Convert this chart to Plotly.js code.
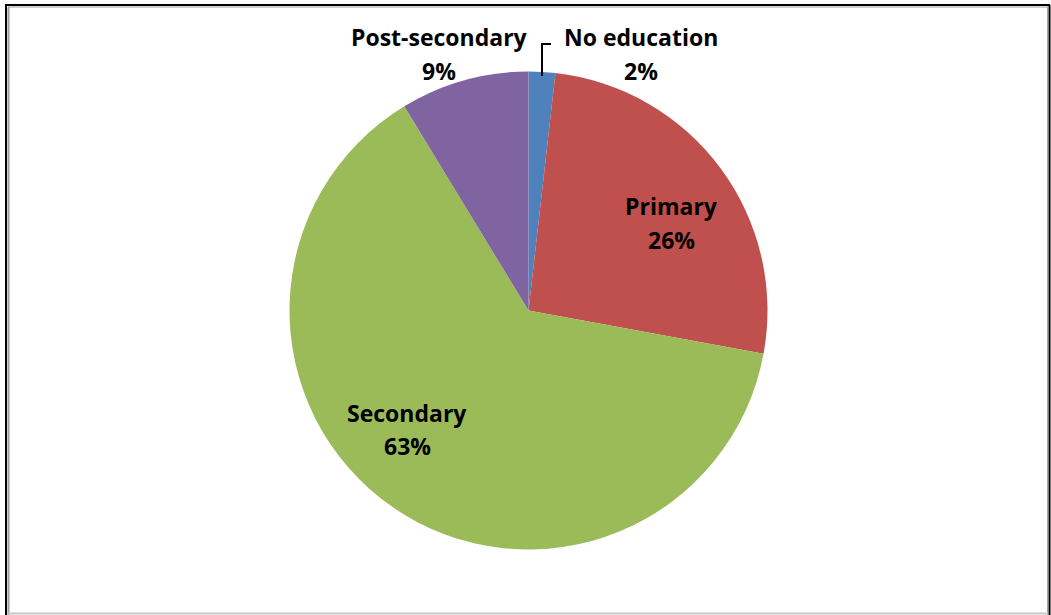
<!DOCTYPE html>
<html><head><meta charset="utf-8">
<script src="https://cdn.plot.ly/plotly-3.0.1.min.js"></script>
<style>html,body{margin:0;padding:0;background:#fff;}#chart{width:1051px;height:615px;}</style>
</head><body><div id="chart"></div>
<script>
const categories = ["No education", "Primary", "Secondary", "Post-secondary"];
const values = [1.8, 26.1, 63.4, 8.7];
const colors = ["#4F81BD", "#C0504D", "#9BBB59", "#8064A2"];

const W = 1051, H = 615;
const px = x => x / W, py = y => 1 - y / H;
const total = values.reduce((a, b) => a + b, 0);
const pct = values.map(v => Math.round(v / total * 100) + "%");

const cx = 528.5, cy = 310.5, R = 239;
const labelPos = [
  {x: 641, y1: 37, y2: 71},
  {x: 671, y1: 206, y2: 240},
  {x: 407, y1: 413, y2: 446},
  {x: 439, y1: 37, y2: 71}
];
const font = {family: "Open Sans, Liberation Sans, sans-serif", size: 23, color: "#000", weight: 700};
const annotations = [];
categories.forEach((c, i) => {
  const p = labelPos[i];
  annotations.push({xref: "paper", yref: "paper", x: px(p.x), y: py(p.y1), text: c, showarrow: false, xanchor: "center", yanchor: "middle", font});
  annotations.push({xref: "paper", yref: "paper", x: px(p.x), y: py(p.y2), text: pct[i], showarrow: false, xanchor: "center", yanchor: "middle", font});
});

const shapes = [
  // outer frame
  {type: "line", xref: "paper", yref: "paper", x0: px(6), x1: px(6), y0: py(5), y1: py(615), line: {color: "#000", width: 2}},
  {type: "line", xref: "paper", yref: "paper", x0: px(5), x1: px(1050), y0: py(5), y1: py(5), line: {color: "#000", width: 2}},
  {type: "line", xref: "paper", yref: "paper", x0: px(1049.5), x1: px(1049.5), y0: py(5), y1: py(615), line: {color: "#000", width: 2}},
  {type: "line", xref: "paper", yref: "paper", x0: px(8.5), x1: px(8.5), y0: py(7), y1: py(615), line: {color: "#a0a0a0", width: 2}},
  {type: "line", xref: "paper", yref: "paper", x0: px(8), x1: px(1048), y0: py(7), y1: py(7), line: {color: "#a0a0a0", width: 1}},
  {type: "line", xref: "paper", yref: "paper", x0: px(1047.5), x1: px(1047.5), y0: py(7), y1: py(615), line: {color: "#a0a0a0", width: 1}},
  {type: "line", xref: "paper", yref: "paper", x0: px(8), x1: px(1048), y0: py(613.5), y1: py(613.5), line: {color: "#c8c8c8", width: 2}},
  // leader line for No education
  {type: "path", xref: "paper", yref: "paper", path: `M ${px(542)} ${py(76)} L ${px(542)} ${py(44)} L ${px(551)} ${py(44)}`, line: {color: "#000", width: 2}}
];

const trace = {
  type: "pie",
  labels: categories,
  values: values,
  sort: false,
  direction: "clockwise",
  rotation: 0,
  marker: {colors: colors, line: {width: 0}},
  textinfo: "none",
  hoverinfo: "label+percent",
  showlegend: false,
  domain: {x: [px(cx - R), px(cx + R)], y: [py(cy + R), py(cy - R)]}
};

Plotly.newPlot("chart", [trace], {
  width: W, height: H,
  margin: {l: 0, r: 0, t: 0, b: 0},
  paper_bgcolor: "#fff",
  annotations, shapes
}, {displayModeBar: false, staticPlot: true});
</script></body></html>
